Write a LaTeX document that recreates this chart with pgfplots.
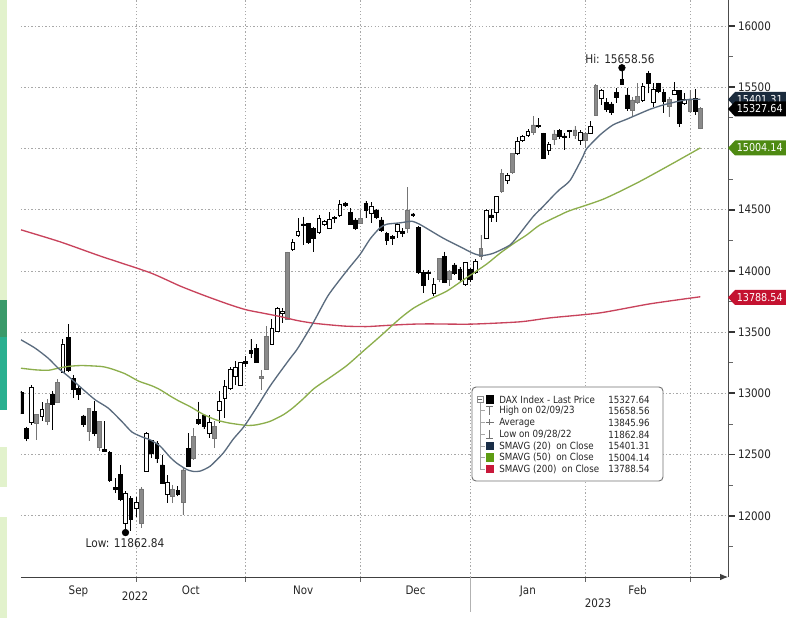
\documentclass[border=0pt]{standalone}
\usepackage{fontspec}
\setmainfont{DejaVu Sans}[FakeStretch=0.88]
\usepackage{pgfplots}
\usepackage{pgfplotstable}
\pgfplotsset{compat=1.18}
\usepgfplotslibrary{statistics}
\usetikzlibrary{arrows.meta}

\definecolor{maA}{HTML}{5A6B7E}
\definecolor{maB}{HTML}{8CAE4C}
\definecolor{maC}{HTML}{C8435C}
\definecolor{tagA}{HTML}{1B2B3D}
\definecolor{tagB}{HTML}{4E8A12}
\definecolor{tagC}{HTML}{C41230}
\definecolor{sqA}{HTML}{1A2E48}
\definecolor{sqB}{HTML}{5E9C12}
\definecolor{sqC}{HTML}{C8183A}
\definecolor{cgray}{HTML}{8A8A8A}
\definecolor{gridgray}{HTML}{A8A8A8}
\definecolor{stripL}{HTML}{E2F2CC}
\definecolor{stripT}{HTML}{3A9A6A}
\definecolor{stripU}{HTML}{2AB090}

\pgfplotsset{
  boxplot/draw direction=y,
  boxplot/box extend=0.72,
  boxplot/whisker extend=0,
  candlew/.style={draw=black, fill=white, line width=0.5pt,
     boxplot/every box/.style={draw=black, fill=white}},
  candleb/.style={draw=black, fill=black, line width=0.5pt,
     boxplot/every box/.style={draw=black, fill=black}},
  candleg/.style={draw=cgray!85!black, fill=cgray, line width=0.5pt,
     boxplot/every box/.style={draw=cgray!85!black, fill=cgray}},
}

% i = trading-day index, h = high, bt = body top, bb = body bottom, l = low, t = candle style
\pgfplotstableread{
i h bt bb l t
0 13020 13010 12840 12830 b
1 12729 12716 12629 12607 b
2 13064 13050 12765 12743 w
3 12830 12825 12756 12620 g
4 12928 12871 12811 12775 w
5 12952 12920 12770 12738 g
6 13020 12988 12906 12702 b
7 13116 13088 12928 12920 g
8 13445 13404 13173 13173 w
9 13565 13456 13184 13173 b
10 13151 13124 13029 12961 b
11 13069 13037 12993 12947 b
12 12825 12816 12743 12729 b
13 12879 12879 12688 12612 g
14 12939 12852 12675 12648 b
15 12770 12770 12558 12531 g
16 12770 12545 12530 12525 b
17 12525 12517 12286 12280 b
18 12308 12234 12220 12185 b
19 12416 12335 12136 12117 b
20 12199 12185 11940 11862.84 w
21 12158 12139 11973 11878 b
22 12150 12112 12063 11986 w
23 12231 12220 11940 11899 g
24 12688 12675 12362 12362 w
25 12620 12612 12512 12471 b
26 12607 12593 12471 12430 b
27 12498 12416 12267 12267 b
28 12335 12272 12172 12104 w
29 12253 12218 12158 12104 g
30 12240 12207 12172 12158 b
31 12389 12375 12109 12008 g
32 12675 12552 12403 12403 b
33 12716 12648 12471 12457 g
34 12933 12789 12756 12743 b
35 12824 12824 12729 12707 b
36 12824 12762 12675 12634 w
37 12770 12729 12634 12552 g
38 13015 12933 12865 12756 w
39 13110 13056 12960 12797 w
40 13219 13197 13042 13028 w
41 13260 13213 13137 13069 w
42 13251 13251 13069 13069 w
43 13301 13260 13241 13219 b
44 13442 13347 13328 13287 b
45 13401 13369 13252 13252 b
46 13192 13137 13124 13029 g
47 13546 13464 13197 13197 g
48 13605 13532 13401 13401 w
49 13701 13695 13505 13497 w
50 13695 13673 13654 13573 w
51 14158 14150 13605 13605 g
52 14258 14231 14177 14166 w
53 14430 14321 14294 14280 w
54 14443 14383 14375 14212 b
55 14389 14389 14231 14226 b
56 14362 14348 14267 14158 b
57 14457 14430 14313 14307 w
58 14416 14403 14381 14367 w
59 14484 14422 14348 14348 w
60 14449 14438 14427 14389 b
61 14580 14544 14452 14443 w
62 14566 14552 14539 14520 b
63 14511 14479 14384 14375 b
64 14430 14416 14348 14335 b
65 14498 14430 14389 14389 g
66 14571 14552 14492 14430 b
67 14566 14531 14471 14389 w
68 14503 14498 14438 14422 b
69 14438 14416 14335 14321 b
70 14321 14307 14253 14212 b
71 14294 14280 14269 14212 b
72 14394 14381 14321 14267 w
73 14348 14321 14307 14275 b
74 14683 14498 14348 14307 g
75 14471 14465 14457 14443 b
76 14367 14356 13986 13981 b
77 14008 13985 13880 13823 b
78 14003 13989 13981 13927 b
79 13940 13886 13818 13796 w
80 14103 14103 13932 13905 g
81 14158 14117 13905 13905 b
82 14008 14000 13927 13878 g
83 14063 14049 13981 13967 b
84 14035 14014 13927 13913 b
85 14076 14068 13886 13878 w
86 14022 14014 13927 13913 b
87 14095 14076 13986 13976 w
88 14294 14185 14117 14090 g
89 14503 14498 14267 14267 w
90 14503 14457 14438 14403 b
91 14612 14607 14476 14395 w
92 14830 14797 14648 14639 g
93 14797 14784 14737 14710 w
94 14960 14960 14803 14797 g
95 15097 15056 14960 14947 w
96 15110 15097 15064 15050 w
97 15156 15137 15110 15091 w
98 15265 15192 15129 15110 g
99 15246 15186 15178 15165 b
100 15129 15124 14920 14912 b
101 15056 15037 14988 14947 w
102 15151 15118 15075 15029 g
103 15156 15146 15097 15075 b
104 15124 15102 15091 14988 b
105 15151 15145 15137 15083 b
106 15184 15151 15110 15075 g
107 15151 15129 15069 15028 w
108 15137 15124 15069 15001 g
109 15227 15178 15124 15118 w
110 15524 15513 15273 15273 g
111 15483 15472 15409 15355 w
112 15409 15377 15320 15301 b
113 15382 15363 15292 15273 b
114 15491 15456 15418 15374 b
115 15658.56 15565 15526 15520 b
116 15491 15437 15328 15309 b
117 15423 15396 15314 15265 g
118 15532 15423 15374 15369 g
119 15532 15510 15390 15382 w
120 15635 15614 15532 15450 b
121 15532 15483 15374 15341 w
122 15537 15532 15464 15450 b
123 15483 15456 15382 15292 b
124 15423 15401 15347 15260 g
125 15546 15472 15445 15437 w
126 15475 15475 15205 15173 b
127 15456 15401 15369 15355 w
128 15477 15390 15301 15287 g
129 15483 15409 15301 15273 b
130 15336 15328 15165 15156 g
}\candles

\pgfplotstableread{
x y
0 13437
2.7 13369
5.2 13287
7.1 13206
9.1 13137
11.6 13042
14.2 12947
16.7 12879
19.3 12770
21.2 12685
23.1 12645
24.7 12620
26.6 12570
28.5 12480
29.8 12430
31.7 12378
33.0 12362
34.3 12365
36.2 12405
38.7 12512
40.6 12625
42.7 12730
45.1 12885
47.6 13055
49.6 13175
51.5 13285
53.0 13370
55.9 13575
58.8 13800
62.3 13998
64.9 14135
66.8 14260
68.7 14352
70.0 14381
72.5 14392
74.8 14405
76.3 14380
77.6 14348
80.8 14267
84.0 14198
86.5 14144
88.2 14125
90.4 14144
93.6 14212
95.5 14307
98.0 14443
99.9 14525
101.9 14615
103.1 14665
105.1 14740
107.5 14930
108.2 14995
110.8 15110
113.3 15192
115.9 15238
117.8 15273
120.4 15320
122.9 15355
125.5 15382
128.0 15401
130 15401.31
}\smaA

\pgfplotstableread{
x y
0 13205
2.7 13192
5.2 13188
7.1 13205
9.1 13220
11.6 13227
15.4 13219
17.3 13200
19.9 13160
22.5 13100
25.0 13062
26.6 13030
28.7 12974
30.4 12933
32.3 12893
34.9 12828
37.4 12782
39.9 12757
43.2 12738
45.1 12743
47.6 12770
50.2 12825
52.0 12880
54.0 12955
56.1 13040
59.0 13125
62.3 13225
65.5 13345
68.7 13464
72.5 13610
75.1 13695
78.3 13770
81.5 13835
85.3 13945
89.1 14055
91.7 14145
94.5 14230
96.8 14294
99.3 14375
103.1 14455
105.1 14493
111.4 14585
117.8 14716
124.2 14865
130 15004.14
}\smaB

\pgfplotstableread{
x y
0 14335
7.5 14237
15.1 14122
24.7 13985
30.4 13877
35.0 13800
40.0 13723
43.2 13681
46.4 13654
49.6 13627
52.8 13595
55.9 13573
59.1 13559
62.3 13548
66.1 13545
68.7 13551
71.9 13559
75.1 13565
78.3 13567
86.1 13565
95.5 13584
101.2 13616
110.8 13657
120.4 13731
130 13788.54
}\smaC

\newcommand\labfont{\fontsize{8.8}{10}\selectfont}
\newcommand\legfont{\fontsize{7.4}{8.5}\selectfont}
\newcommand\tagfont{\fontsize{8.2}{9}\selectfont}
\newcommand\annfont{\fontsize{9}{10}\selectfont}
\newcommand\pricetag[4]{%
  \fill[#2] (728,#1) -- (735,#1-7.5) -- (792,#1-7.5) -- (792,#1+7.5) -- (735,#1+7.5) -- cycle;
  \node[anchor=west, text=#3, font=\tagfont, inner sep=0pt] at (736.5,#1) {#4};}
\newcommand\legrow[2]{%
  \node[anchor=west, font=\legfont, text=black!85, inner sep=0pt] at (499,#1) {#2};}
\newcommand\legnum[2]{%
  \node[anchor=east, font=\legfont, text=black!85, inner sep=0pt] at (650,#1) {#2};}

\begin{document}
\begin{tikzpicture}
\path[use as bounding box] (-15.75pt,-30.75pt) rectangle (573.75pt,432.75pt);
\begin{axis}[
  at={(0,0)}, anchor=south west,
  scale only axis, width=530.25pt, height=432.75pt,
  xmin=0, xmax=135.3, ymin=11500, ymax=16212,
  axis x line=bottom, axis y line=right,
  x axis line style={draw=black!75, line width=0.7pt, -{Latex[length=6pt,width=5pt]}},
  y axis line style={draw=black!70, line width=0.7pt, -},
  tick align=outside,
  xtick={11,32.5,54,75.5,97,118},
  xticklabels={Sep,Oct,Nov,Dec,Jan,Feb},
  major x tick style={draw=none},
  minor xtick={22,43,65,86,108,128},
  minor x tick style={draw=black!60, line width=0.5pt},
  xminorgrids,
  ytick={12000,12500,13000,13500,14000,14500,15000,15500,16000},
  yticklabels={12000,12500,13000,13500,14000,14500,{},15500,16000},
  minor ytick={11750,12250,...,15750},
  scaled y ticks=false,
  major y tick style={draw=black!80, line width=1.4pt},
  minor y tick style={draw=black!60, line width=0.6pt},
  major tick length=5pt, minor tick length=3.5pt,
  ymajorgrids,
  grid style={draw=gridgray, line width=0.5pt, dash pattern=on 1pt off 1.6pt},
  minor grid style={draw=gridgray, line width=0.5pt, dash pattern=on 1pt off 1.6pt},
  tick label style={font=\labfont, text=black!85},
  xticklabel style={yshift=2pt},
  yticklabel style={xshift=-1pt},
  /pgf/number format/1000 sep={},
  /pgf/number format/assume math mode=true,
]
\pgfplotsforeachungrouped \rowidx in {0,...,130}{%
  \pgfplotstablegetelem{\rowidx}{i}\of{\candles}\let\cdI\pgfplotsretval
  \pgfplotstablegetelem{\rowidx}{h}\of{\candles}\let\cdH\pgfplotsretval
  \pgfplotstablegetelem{\rowidx}{bt}\of{\candles}\let\cdBT\pgfplotsretval
  \pgfplotstablegetelem{\rowidx}{bb}\of{\candles}\let\cdBB\pgfplotsretval
  \pgfplotstablegetelem{\rowidx}{l}\of{\candles}\let\cdL\pgfplotsretval
  \pgfplotstablegetelem{\rowidx}{t}\of{\candles}\let\cdT\pgfplotsretval
  \edef\cdplot{\noexpand\addplot[candle\cdT, boxplot prepared={draw position=\cdI, lower whisker=\cdL, lower quartile=\cdBB, median=\cdBT, upper quartile=\cdBT, upper whisker=\cdH}] coordinates {};}%
  \cdplot
}
\addplot[maC, line width=1pt, mark=none, smooth, tension=0.4] table[x=x,y=y] {\smaC};
\addplot[maB, line width=1pt, mark=none, smooth, tension=0.4] table[x=x,y=y] {\smaB};
\addplot[maA, line width=1pt, mark=none, smooth, tension=0.4] table[x=x,y=y] {\smaA};
\addplot[only marks, mark=*, mark size=2.5pt, black] coordinates {(115,15658.56)};
\addplot[only marks, mark=*, mark size=2.5pt, black] coordinates {(20,11862.84)};
\end{axis}

\begin{scope}[shift={(-15.75pt,432.75pt)}, x=0.75pt, y=-0.75pt]
  % left edge strip of the screenshot
  \fill[stripL] (0,0) rectangle (7,618);
  \fill[stripT] (0,300) rectangle (7,337);
  \fill[stripU] (0,337) rectangle (7,410);
  \fill[white] (0,410) rectangle (7,447);
  \fill[white] (0,487) rectangle (7,517);
  % year divider and labels
  \draw[black!30, line width=0.5pt] (470.4,577) -- (470.4,612);
  \node[font=\labfont, text=black!85] at (135,596) {2022};
  \node[font=\labfont, text=black!85] at (598,603) {2023};
  % annotations
  \node[font=\annfont, text=black!85] at (620,59) {Hi: 15658.56};
  \node[font=\annfont, text=black!85] at (125,543) {Low: 11862.84};
  % price tags
  \pricetag{99.5}{tagA}{white}{15401.31}
  \pricetag{109}{black}{white}{15327.64}
  \pricetag{148}{tagB}{white}{15004.14}
  \pricetag{297.5}{tagC}{white}{13788.54}
  % legend
  \draw[rounded corners=3pt, draw=black!55, fill=white, line width=0.7pt] (472,387) rectangle (663,481);
  \draw[black!35, line width=0.5pt] (480,402) -- (480,469.5);
  \foreach \yy in {410.8,422.5,434.5,446.2,457.7,469.3} {\draw[black!35, line width=0.5pt] (480,\yy) -- (485,\yy);}
  \draw[black!45, fill=white, line width=0.5pt] (477,396.5) rectangle (483,402.5);
  \draw[black!60, line width=0.5pt] (478.3,399.5) -- (481.7,399.5);
  \fill[black] (485.5,395.5) rectangle (494,404);
  \draw[black!55, line width=0.6pt] (486,406.5) -- (493,406.5) (489.5,406.5) -- (489.5,415);
  \draw[black!55, line width=0.6pt] (485.5,422.5) -- (493.5,422.5) (489.5,419.5) -- (489.5,425.5);
  \draw[black!55, line width=0.6pt] (489.5,430) -- (489.5,438.5) (486,438.5) -- (493,438.5);
  \fill[sqA] (485.5,442) rectangle (494,450.5);
  \fill[sqB] (485.5,453.5) rectangle (494,462);
  \fill[sqC] (485.5,465) rectangle (494,473.5);
  \legrow{399.5}{DAX Index - Last Price}\legnum{399.5}{15327.64}
  \legrow{410.8}{High on 02/09/23}\legnum{410.8}{15658.56}
  \legrow{422.5}{Average}\legnum{422.5}{13845.96}
  \legrow{434.5}{Low on 09/28/22}\legnum{434.5}{11862.84}
  \legrow{446.2}{SMAVG (20) \ on Close}\legnum{446.2}{15401.31}
  \legrow{457.7}{SMAVG (50) \ on Close}\legnum{457.7}{15004.14}
  \legrow{469.3}{SMAVG (200) \ on Close}\legnum{469.3}{13788.54}
\end{scope}
\end{tikzpicture}
\end{document}
